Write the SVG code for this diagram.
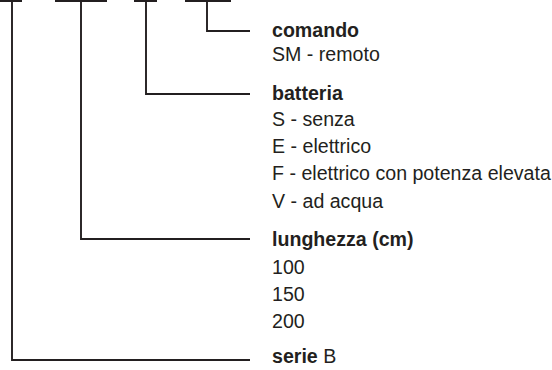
<svg xmlns="http://www.w3.org/2000/svg" width="552" height="370" viewBox="0 0 552 370">
<style>
.ln{fill:none;stroke:#231f20;stroke-width:1.9;stroke-linecap:butt}
text{font-family:"Liberation Sans",Arial,sans-serif;font-size:19.6px;fill:#231f20}
.b{font-weight:bold}
</style>
<rect width="552" height="370" fill="#fff"/>
<g id="connectors">
<path class="ln" d="M0 1H22M12 1V360H250"/>
<path class="ln" d="M55 1H107M81 1V239H250"/>
<path class="ln" d="M134 1H157M146 1V94H250"/>
<path class="ln" d="M185 1H231M207 1V31H250"/>
</g>
<g id="comando">
<text x="272" y="37" class="b">comando</text>
<text x="272" y="61">SM - remoto</text>
</g>
<g id="batteria">
<text x="272" y="100" class="b">batteria</text>
<text x="272" y="126">S - senza</text>
<text x="272" y="153">E - elettrico</text>
<text x="272" y="180">F - elettrico con potenza elevata</text>
<text x="272" y="208">V - ad acqua</text>
</g>
<g id="lunghezza">
<text x="272" y="246" class="b">lunghezza (cm)</text>
<text x="272" y="274">100</text>
<text x="272" y="301">150</text>
<text x="272" y="328">200</text>
</g>
<g id="serie">
<text x="272" y="363"><tspan class="b">serie</tspan> B</text>
</g>
</svg>
